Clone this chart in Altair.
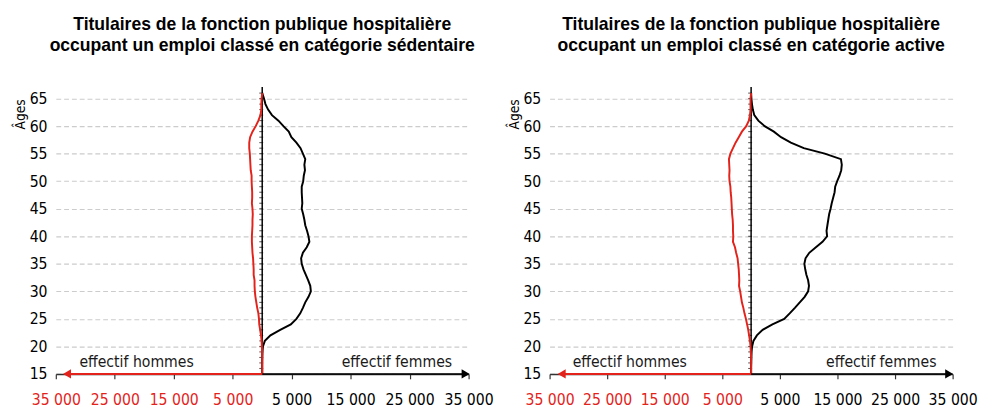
import altair as alt
import pandas as pd

AGES = list(range(15, 67))

# Catégorie sédentaire
SED_FEMMES = [0, 0, 0, 20, 50, 120, 450, 1400, 3050, 4850,
              5800, 6450, 6900, 7300, 7850, 8250, 8150, 7800, 7400, 7000,
              6700, 6600, 6900, 7550, 8000, 7850, 7600, 7300, 7150, 6950,
              6700, 6800, 6750, 6700, 6700, 6950, 7050, 7250, 7150, 7300,
              6900, 6500, 5800, 4950, 4500, 3600, 2750, 1650, 1000, 550,
              300, 0]
SED_HOMMES = [0, 0, 0, 0, 20, 50, 100, 200, 350, 500,
              550, 650, 850, 1000, 1150, 1250, 1300, 1300, 1450, 1450,
              1500, 1550, 1650, 1700, 1750, 1750, 1700, 1650, 1650, 1600,
              1650, 1750, 1700, 1700, 1750, 1800, 1800, 1950, 2000, 2050,
              2100, 2200, 2200, 2050, 1650, 1100, 650, 300, 150, 150,
              100, 0]

# Catégorie active
ACT_FEMMES = [0, 0, 20, 50, 80, 170, 400, 1000, 2000, 3700,
              5750, 6700, 7600, 8450, 9300, 9900, 10050, 9900, 9600, 9400,
              9250, 9450, 10100, 11250, 12400, 13200, 13100, 13250, 13400, 13550,
              13800, 14000, 14250, 14500, 14600, 14950, 15350, 15650, 15750, 15600,
              12800, 9150, 6900, 5200, 3950, 2350, 1250, 550, 300, 150,
              50, 0]
ACT_HOMMES = [0, 0, 0, 0, 50, 100, 200, 350, 500, 700,
              900, 1150, 1350, 1600, 1750, 1900, 2100, 2050, 2100, 2150,
              2250, 2350, 2600, 2800, 3150, 3100, 3150, 3150, 3200, 3300,
              3350, 3400, 3450, 3550, 3600, 3750, 3800, 3750, 3800, 3850,
              3600, 3150, 2700, 2150, 1600, 850, 400, 200, 100, 100,
              100, 0]

X_TICKS = [-35000, -25000, -15000, -5000, 5000, 15000, 25000, 35000]
Y_TICKS = [15, 20, 25, 30, 35, 40, 45, 50, 55, 60, 65]
MINOR_AGES = list(range(16, 67))

TITRE_SED = ["Titulaires de la fonction publique hospitalière",
             "occupant un emploi classé en catégorie sédentaire"]
TITRE_ACT = ["Titulaires de la fonction publique hospitalière",
             "occupant un emploi classé en catégorie active"]
LABEL_H = "effectif hommes"
LABEL_F = "effectif femmes"

FONT = "Liberation Sans Narrow, DejaVu Sans Condensed, Arial Narrow, sans-serif"
TITLE_FONT = "Liberation Sans, Arial, sans-serif"
RED = "#e3231b"
Y_TOP = 67.1


def panel(titre, femmes, hommes, width, arrow_l, arrow_r):
    df = pd.DataFrame({"age": AGES, "femmes": femmes,
                       "hommes": [-h for h in hommes]})
    xs = alt.Scale(domain=[-35000, 35000], nice=False, zero=False)
    ys = alt.Scale(domain=[15, Y_TOP], nice=False, zero=False)
    xaxis = alt.Axis(
        values=X_TICKS, title=None, grid=False,
        labelExpr="replace(format(abs(datum.value), ','), ',', ' ')",
        labelColor=alt.condition("datum.value < 0", alt.value(RED), alt.value("black")),
        labelFont=FONT, labelFontSize=16, labelPadding=13,
        domainColor="#333333", domainWidth=1.5, tickColor="#333333",
        tickSize=5, tickWidth=1.2, labelFlush=False, labelOverlap=False,
    )
    yaxis = alt.Axis(
        values=Y_TICKS, title="Âges", grid=True, gridDash=[5, 3],
        gridColor="#cccccc", gridWidth=1.2, domain=False, ticks=False,
        labelFont=FONT, labelFontSize=16, labelPadding=9, labelColor="black",
        titleFont=FONT, titleFontSize=14, titleFontWeight="normal",
        titleAlign="right", titleBaseline="bottom", titleAngle=270,
        titleX=-29, titleY=12, titleColor="black",
    )

    def X(field=None, datum=None):
        if datum is not None:
            return alt.XDatum(datum, scale=xs, axis=xaxis)
        return alt.X(field, scale=xs, axis=xaxis)

    def Y(field=None, datum=None):
        if datum is not None:
            return alt.YDatum(datum, scale=ys, axis=yaxis)
        return alt.Y(field, scale=ys, axis=yaxis)

    base = alt.Chart(df)
    femmes_line = base.mark_line(color="black", strokeWidth=2).encode(
        x=X("femmes:Q"), y=Y("age:Q"), order="age:Q",
    )
    hommes_line = base.mark_line(color=RED, strokeWidth=2).encode(
        x=X("hommes:Q"), y=Y("age:Q"), order="age:Q",
    )
    one = pd.DataFrame({"v": [0]})
    center = alt.Chart(one).mark_rule(color="black", strokeWidth=1.5).encode(
        x=X(datum=0), y=Y(datum=15), y2=alt.Y2Datum(Y_TOP)
    )
    minor = alt.Chart(pd.DataFrame({"age": MINOR_AGES})).mark_tick(
        orient="horizontal", size=4, thickness=1, color="black", xOffset=-1
    ).encode(x=X(datum=0), y=Y("age:Q"))
    red_rule = alt.Chart(one).mark_rule(color=RED, strokeWidth=2).encode(
        x=X(datum=0), x2=alt.X2Datum(arrow_l), y=Y(datum=15)
    )
    black_rule = alt.Chart(one).mark_rule(color="black", strokeWidth=1.5).encode(
        x=X(datum=0), x2=alt.X2Datum(arrow_r), y=Y(datum=15)
    )
    left_arrow = alt.Chart(one).mark_point(
        shape="triangle-left", filled=True, color=RED, size=90, opacity=1
    ).encode(x=X(datum=arrow_l), y=Y(datum=15))
    right_arrow = alt.Chart(one).mark_point(
        shape="triangle-right", filled=True, color="black", size=90, opacity=1
    ).encode(x=X(datum=arrow_r), y=Y(datum=15))
    txt_h = alt.Chart(pd.DataFrame({"x": [-31000], "y": [16.3], "t": [LABEL_H]})).mark_text(
        align="left", baseline="alphabetic", font=FONT, fontSize=16, color="#1a1a1a"
    ).encode(x=X("x:Q"), y=Y("y:Q"), text="t:N")
    txt_f = alt.Chart(pd.DataFrame({"x": [32200], "y": [16.3], "t": [LABEL_F]})).mark_text(
        align="right", baseline="alphabetic", font=FONT, fontSize=16, color="#1a1a1a"
    ).encode(x=X("x:Q"), y=Y("y:Q"), text="t:N")

    return alt.layer(
        femmes_line, center, minor, hommes_line, black_rule, red_rule,
        left_arrow, right_arrow, txt_h, txt_f,
    ).properties(
        width=width, height=294,
        title=alt.TitleParams(
            text=titre, font=TITLE_FONT, fontSize=18, fontWeight="bold",
            anchor="middle", lineHeight=22, offset=32, color="black",
        ),
    )


left = panel(TITRE_SED, SED_FEMMES, SED_HOMMES, 423, -33100, 34500)
right = panel(TITRE_ACT, ACT_FEMMES, ACT_HOMMES, 413, -32900, 34400)

chart = alt.hconcat(left, right, spacing=14).properties(
    padding={"left": 6, "top": 3, "right": 0, "bottom": 0}
).configure_view(stroke=None)

chart.save("out.html", embed_options={"renderer": "svg", "actions": False})
